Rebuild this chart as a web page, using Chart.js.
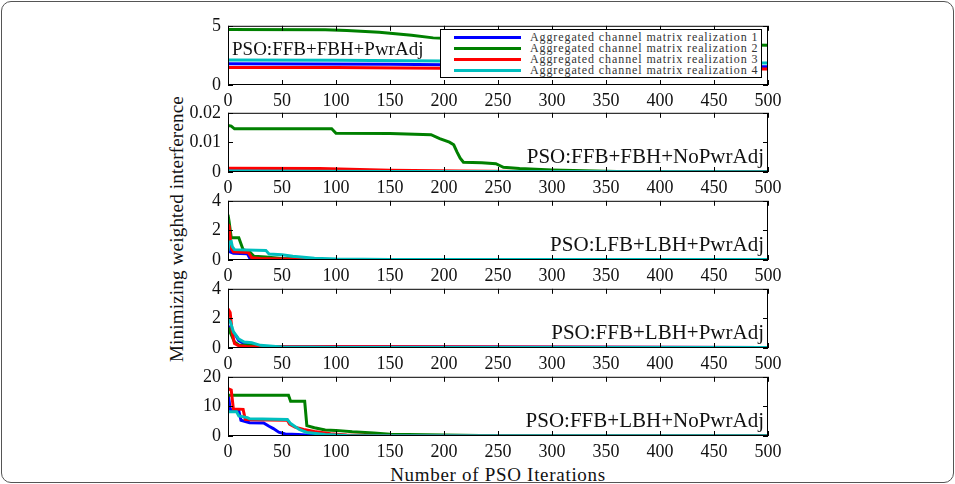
<!DOCTYPE html>
<html>
<head>
<meta charset="utf-8">
<script src="https://cdn.jsdelivr.net/npm/chart.js@4.4.0/dist/chart.umd.min.js"></script>
<style>
  body { margin: 0; background: #fff; }
  #wrap { position: relative; width: 955px; height: 484px; overflow: hidden; font-family: "Liberation Serif", serif; }
  #border { position: absolute; left: 1px; top: 1px; width: 951px; height: 480px; border: 1px solid #555; border-radius: 10px; }
  canvas { position: absolute; left: 0; }
  #ytitle { position: absolute; left: 177px; top: 229px; transform: translate(-50%, -50%) rotate(-90deg); font-size: 19px; letter-spacing: 0.2px; white-space: nowrap; color: #111; }
  #xtitle { position: absolute; left: 498px; top: 475px; transform: translate(-50%, -50%); font-size: 19px; letter-spacing: 0.7px; white-space: nowrap; color: #111; }
  #legend { position: absolute; left: 440px; top: 29px; width: 320px; height: 47px; border: 1px solid #000; background: #fff; z-index: 10; }
  .row { position: absolute; left: 0; height: 11px; width: 100%; }
  .row .ln { position: absolute; left: 13px; top: 4px; width: 67px; height: 3px; }
  .row .tx { position: absolute; left: 89px; top: -2px; font-size: 12px; letter-spacing: 0.9px; color: #333; white-space: nowrap; }
</style>
</head>
<body>
<div id="wrap">
  <div id="border"></div>
  <div id="ytitle">Minimizing weighted interference</div>
  <div id="xtitle">Number of PSO Iterations</div>
  <div id="legend"></div>
</div>
<script>
// series / legend
const seriesNames = [
  'Aggregated channel matrix realization 1',
  'Aggregated channel matrix realization 2',
  'Aggregated channel matrix realization 3',
  'Aggregated channel matrix realization 4'
];
const seriesColors = ['#0000ff', '#008000', '#ff0000', '#00bfbf'];

const panelLabels = ['PSO:FFB+FBH+PwrAdj', 'PSO:FFB+FBH+NoPwrAdj', 'PSO:LFB+LBH+PwrAdj', 'PSO:FFB+LBH+PwrAdj', 'PSO:FFB+LBH+NoPwrAdj'];
const yMax = [5, 0.02, 4, 4, 20];
const yStep = [5, 0.01, 2, 2, 10];
const xMax = 500, xStep = 50;

// panel 1: PSO:FFB+FBH+PwrAdj
const p1x1 = [0, 150, 200, 500];                       const p1y1 = [1.8, 1.76, 1.72, 1.55];
const p1x2 = [0, 90, 110, 140, 170, 190, 200, 300, 400, 500]; const p1y2 = [4.68, 4.66, 4.6, 4.45, 4.2, 3.98, 3.95, 3.7, 3.5, 3.35];
const p1x3 = [0, 100, 200, 500];                       const p1y3 = [1.48, 1.47, 1.42, 1.35];
const p1x4 = [0, 100, 200, 350, 500];                  const p1y4 = [2.12, 2.1, 2.02, 1.92, 1.85];

// panel 2: PSO:FFB+FBH+NoPwrAdj
const p2x1 = [0, 100, 200, 500];                       const p2y1 = [0.0004, 0.0003, 0.0001, 0.0001];
const p2x2 = [0, 3, 6, 96, 100, 150, 188, 196, 205, 209, 212, 215, 218, 235, 248, 255, 270, 300, 330, 360, 500];
const p2y2 = [0.0157, 0.0155, 0.0146, 0.0146, 0.0131, 0.013, 0.0126, 0.0113, 0.0101, 0.0092, 0.0068, 0.0047, 0.0033, 0.0031, 0.0028, 0.0016, 0.0012, 0.0007, 0.0004, 0.0002, 0.0001];
const p2x3 = [0, 85, 150, 215, 300, 500];              const p2y3 = [0.0013, 0.0012, 0.0006, 0.0003, 0.0001, 0.0001];
const p2x4 = [0, 150, 500];                            const p2y4 = [0.0003, 0.0002, 0.0001];

// panel 3: PSO:LFB+LBH+PwrAdj
const p3x1 = [0, 1, 2, 5, 18, 20, 30, 60, 100, 500];   const p3y1 = [0.9, 0.8, 0.55, 0.45, 0.42, 0.15, 0.1, 0.05, 0.03, 0.03];
const p3x2 = [0, 1, 3, 10, 12, 14, 20, 24, 35, 50, 80, 500]; const p3y2 = [3.05, 2.6, 1.5, 1.5, 1.1, 0.7, 0.55, 0.25, 0.2, 0.1, 0.05, 0.03];
const p3x3 = [0, 1, 3, 5, 19, 22, 30, 60, 500];        const p3y3 = [2.4, 2.3, 0.8, 0.55, 0.5, 0.15, 0.1, 0.05, 0.03];
const p3x4 = [0, 1, 3, 4, 6, 35, 38, 50, 60, 80, 100, 150, 500]; const p3y4 = [0.6, 1.2, 1.25, 0.9, 0.7, 0.65, 0.4, 0.35, 0.25, 0.12, 0.06, 0.04, 0.03];

// panel 4: PSO:FFB+LBH+PwrAdj
const p4x1 = [0, 3, 8, 10, 15, 30, 500];               const p4y1 = [1.5, 1.2, 0.75, 0.5, 0.3, 0.1, 0.03];
const p4x2 = [0, 3, 6, 10, 25, 40, 500];               const p4y2 = [1.4, 0.9, 0.4, 0.2, 0.15, 0.05, 0.03];
const p4x3 = [0, 2, 4, 6, 10, 17, 500];                const p4y3 = [2.65, 2.4, 1.0, 0.3, 0.15, 0.1, 0.03];
const p4x4 = [0, 2, 5, 10, 15, 22, 30, 50, 100, 500];  const p4y4 = [1.9, 1.8, 1.1, 0.6, 0.4, 0.35, 0.18, 0.06, 0.03, 0.03];

// panel 5: PSO:FFB+LBH+NoPwrAdj
const p5x1 = [0, 1, 2, 10, 12, 20, 33, 38, 42, 47, 53, 65, 80, 500];
const p5y1 = [14, 12, 9, 8.5, 5.3, 4.5, 4.4, 3.3, 2.5, 1.3, 0.7, 0.5, 0.2, 0.05];
const p5x2 = [0, 56, 58, 71, 73, 80, 90, 100, 115, 135, 150, 200, 250, 500];
const p5y2 = [13.8, 13.8, 11.7, 11.7, 3.5, 2.8, 2.0, 1.9, 1.4, 1.0, 0.6, 0.3, 0.1, 0.05];
const p5x3 = [0, 3, 5, 14, 16, 20, 55, 57, 62, 70, 80, 95, 110, 150, 500];
const p5y3 = [16, 15.5, 9.1, 9, 5.6, 5.5, 5.3, 4.0, 3.0, 2.2, 1.5, 0.8, 0.3, 0.1, 0.05];
const p5x4 = [0, 8, 10, 18, 20, 55, 58, 62, 66, 73, 90, 110, 150, 500];
const p5y4 = [8.2, 8.2, 6.8, 6.2, 5.8, 5.6, 4.2, 3.2, 2.2, 1.2, 0.5, 0.2, 0.1, 0.05];

const panelX = [[p1x1, p1x2, p1x3, p1x4], [p2x1, p2x2, p2x3, p2x4], [p3x1, p3x2, p3x3, p3x4], [p4x1, p4x2, p4x3, p4x4], [p5x1, p5x2, p5x3, p5x4]];
const panelY = [[p1y1, p1y2, p1y3, p1y4], [p2y1, p2y2, p2y3, p2y4], [p3y1, p3y2, p3y3, p3y4], [p4y1, p4y2, p4y3, p4y4], [p5y1, p5y2, p5y3, p5y4]];

// layout
const plotTops = [22, 109, 197, 285, 373];
const plotH = 63, plotLeft = 228, plotRight = 768, padTop = 14, axisH = 30;
const fontFam = '"Liberation Serif", serif';

// box + inward ticks + panel label
const boxPlugin = {
  id: 'box',
  afterDatasetsDraw(chart, args, opts) {
    const { ctx, chartArea: a, scales: { x, y } } = chart;
    ctx.save();
    ctx.strokeStyle = '#000';
    ctx.lineWidth = 1;
    ctx.strokeRect(a.left + 0.5, a.top + 0.5, a.width - 1, a.height - 1);
    ctx.beginPath();
    x.ticks.forEach(t => {
      const px = Math.round(x.getPixelForValue(t.value)) + 0.5;
      ctx.moveTo(px, a.bottom); ctx.lineTo(px, a.bottom - 5);
      ctx.moveTo(px, a.top); ctx.lineTo(px, a.top + 5);
    });
    y.ticks.forEach(t => {
      const py = Math.round(y.getPixelForValue(t.value)) + 0.5;
      ctx.moveTo(a.left, py); ctx.lineTo(a.left + 5, py);
      ctx.moveTo(a.right, py); ctx.lineTo(a.right - 5, py);
    });
    ctx.stroke();
    ctx.fillStyle = '#111';
    ctx.textBaseline = 'middle';
    if (opts.align === 'left') {
      ctx.font = '19px ' + fontFam;
      ctx.textAlign = 'left';
      ctx.fillText(opts.label, a.left + 4, a.top + 24);
    } else {
      ctx.font = '21px ' + fontFam;
      ctx.textAlign = 'right';
      ctx.fillText(opts.label, a.right - 4, a.bottom - 15);
    }
    ctx.restore();
  }
};

const wrap = document.getElementById('wrap');

panelLabels.forEach((label, p) => {
  const cv = document.createElement('canvas');
  cv.width = 955;
  cv.height = padTop + plotH + axisH;
  cv.style.top = (plotTops[p] - padTop) + 'px';
  wrap.insertBefore(cv, document.getElementById('legend'));

  const datasets = seriesNames.map((name, s) => ({
    label: name,
    data: panelX[p][s].map((v, k) => ({ x: v, y: panelY[p][s][k] })),
    borderColor: seriesColors[s],
    backgroundColor: seriesColors[s],
    borderWidth: 3,
    pointRadius: 0,
    tension: 0,
    order: 4 - s
  }));

  const chart = new Chart(cv, {
    type: 'line',
    data: { datasets },
    options: {
      responsive: false,
      animation: false,
      events: [],
      layout: { padding: { top: padTop, left: 150, right: 955 - plotRight, bottom: 0 } },
      plugins: {
        legend: { display: false },
        tooltip: { enabled: false },
        box: { label: label, align: p === 0 ? 'left' : 'right' }
      },
      scales: {
        x: {
          type: 'linear', min: 0, max: xMax,
          grid: { display: false, drawTicks: false }, border: { display: false },
          ticks: { stepSize: xStep, color: '#111', padding: 5, maxRotation: 0, font: { family: fontFam, size: 18 } }
        },
        y: {
          min: 0, max: yMax[p],
          grid: { display: false, drawTicks: false }, border: { display: false },
          ticks: { stepSize: yStep[p], color: '#111', padding: 7, font: { family: fontFam, size: 18 } }
        }
      }
    },
    plugins: [boxPlugin]
  });

  // nudge padding so every plot box lands on the same pixels
  const a = chart.chartArea;
  const pad = chart.options.layout.padding;
  chart.options.layout.padding = {
    top: pad.top + (padTop - a.top),
    left: pad.left + (plotLeft - a.left),
    right: pad.right + (a.right - plotRight),
    bottom: pad.bottom + (a.bottom - (padTop + plotH))
  };
  chart.update();
});

// legend box
const legend = document.getElementById('legend');
seriesNames.forEach((name, s) => {
  const row = document.createElement('div');
  row.className = 'row';
  row.style.top = (1.5 + s * 11.3) + 'px';
  row.innerHTML = '<div class="ln" style="background:' + seriesColors[s] + '"></div><div class="tx">' + name + '</div>';
  legend.appendChild(row);
});
</script>
</body>
</html>
